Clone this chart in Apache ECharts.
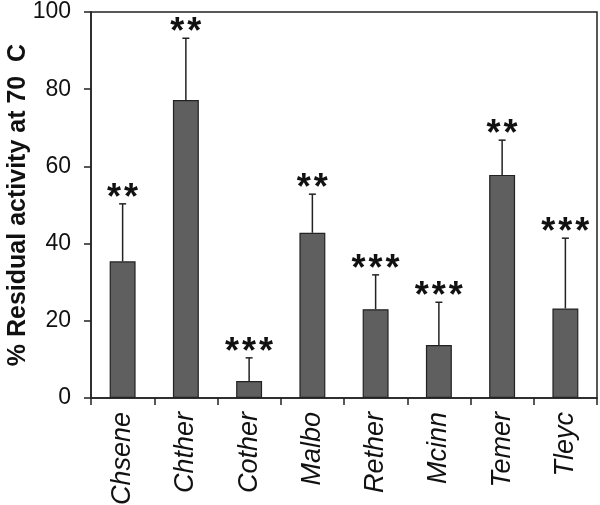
<!DOCTYPE html>
<html>
<head>
<meta charset="utf-8">
<script src="https://cdn.jsdelivr.net/npm/echarts@6/dist/echarts.min.js"></script>
<style>html,body{margin:0;padding:0;background:#fff;}#c{width:600px;height:505px;}</style>
</head>
<body>
<div id="c"></div>
<script>
var categories = ['Chsene','Chther','Cother','Malbo','Rether','Mcinn','Temer','Tleyc'];
var values = [35.4, 77.2, 4.4, 42.8, 23.0, 13.7, 57.8, 23.2];
var errors = [14.9, 16.0, 6.0, 10.0, 8.9, 11.1, 9.0, 18.2];
var stars = ['**','**','***','**','***','***','**','***'];
var yTicks = [0, 20, 40, 60, 80, 100];

var chart = echarts.init(document.getElementById('c'), null, {renderer: 'canvas'});
var FONT = 'Liberation Sans, Arial, Helvetica, sans-serif';
var errData = categories.map(function (c, i) { return [i, values[i], values[i] + errors[i]]; });

chart.setOption({
  animation: false,
  backgroundColor: '#fff',
  grid: {left: 91, right: 3, top: 12, bottom: 107, outerBoundsMode: 'none', containLabel: false, show: true, borderColor: '#222', borderWidth: 1.5, backgroundColor: 'transparent'},
  xAxis: {
    type: 'category',
    data: categories,
    axisLine: {lineStyle: {color: '#222', width: 1.5}},
    axisTick: {show: true, length: 7, lineStyle: {color: '#222', width: 1.5}},
    axisLabel: {rotate: 90, margin: 14, color: '#111', fontFamily: FONT, fontSize: 27, fontStyle: 'italic'}
  },
  yAxis: {
    type: 'value',
    min: yTicks[0], max: yTicks[yTicks.length - 1], interval: 20,
    name: '% Residual activity at 70  C',
    nameLocation: 'middle',
    nameGap: 60,
    nameMoveOverlap: false,
    nameTextStyle: {fontFamily: FONT, fontSize: 25, fontWeight: 'bold', color: '#111'},
    axisLine: {show: true, lineStyle: {color: '#222', width: 1.5}},
    axisTick: {show: true, length: 7, lineStyle: {color: '#222', width: 1.5}},
    axisLabel: {margin: 20, color: '#111', fontFamily: FONT, fontSize: 23},
    splitLine: {show: false}
  },
  series: [
    {
      type: 'bar',
      data: values,
      barWidth: '41%',
      itemStyle: {color: '#5f5f5f', borderColor: '#222', borderWidth: 1.2}
    },
    {
      type: 'custom',
      data: errData,
      z: 5,
      renderItem: function (params, api) {
        var i = api.value(0);
        var base = api.coord([i, api.value(1)]);
        var top = api.coord([i, api.value(2)]);
        var cw = 7;
        var children = [
          {type: 'line', shape: {x1: base[0], y1: base[1], x2: top[0], y2: top[1]}, style: {stroke: '#222', lineWidth: 1.5}},
          {type: 'line', shape: {x1: top[0] - cw / 2, y1: top[1], x2: top[0] + cw / 2, y2: top[1]}, style: {stroke: '#222', lineWidth: 1.5}}
        ];
        var s = stars[params.dataIndex];
        var n = s.length, gap = 17;
        for (var k = 0; k < n; k++) {
          children.push({type: 'text', style: {text: '*', x: top[0] + (k - (n - 1) / 2) * gap, y: top[1] - 5, align: 'center', verticalAlign: 'middle', fontFamily: FONT, fontWeight: 'bold', fontSize: 36, fill: '#111'}});
        }
        return {type: 'group', children: children};
      }
    }
  ]
});
</script>
</body>
</html>
